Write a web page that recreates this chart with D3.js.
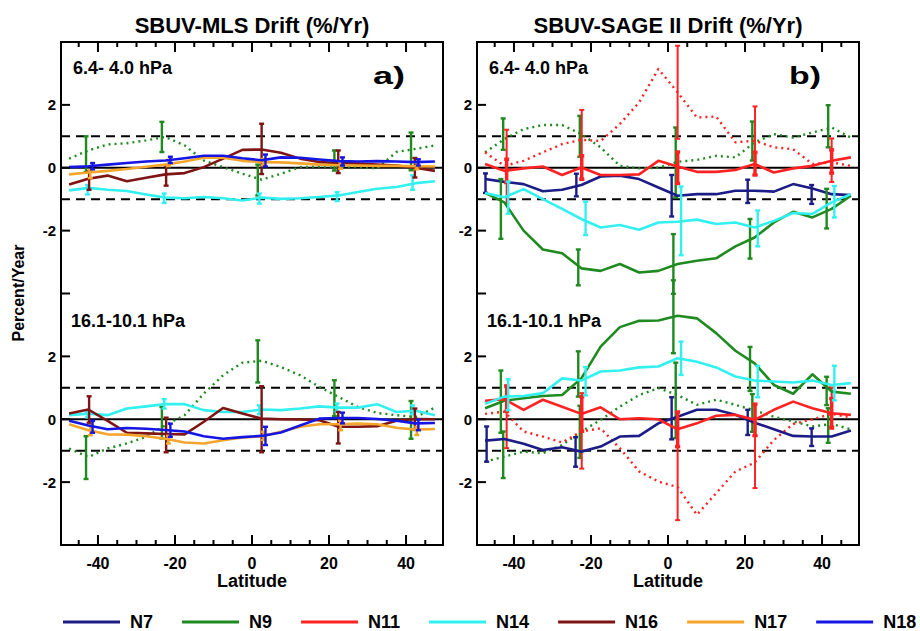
<!DOCTYPE html>
<html>
<head>
<meta charset="utf-8">
<script src="https://cdn.jsdelivr.net/npm/d3@7"></script>
<style>
  body { margin: 0; background: #fff; }
  text { font-family: "Liberation Sans", Arial, sans-serif; font-weight: bold; fill: #000; }
</style>
</head>
<body>
<svg id="chart" width="920" height="631"></svg>
<script>
// latitude bin centres (5 degree bins)
var lats = [-47.5, -42.5, -37.5, -32.5, -27.5, -22.5, -17.5, -12.5, -7.5, -2.5,
            2.5, 7.5, 12.5, 17.5, 22.5, 27.5, 32.5, 37.5, 42.5, 47.5];

// SBUV-MLS, 6.4-4.0 hPa
var mlsUpN9dot = [0.29, 0.55, 0.74, 0.78, 0.87, 0.98, 0.71, 0.23, 0.02, -0.19, -0.38, -0.19, 0.02, 0.04, 0.02, 0.02, -0.02, 0.5, 0.6, 0.71];
var mlsUpN14 = [-0.72, -0.64, -0.7, -0.74, -0.85, -0.95, -0.97, -0.93, -0.97, -1.04, -0.95, -0.99, -0.97, -0.93, -0.88, -0.77, -0.67, -0.61, -0.49, -0.43];
var mlsUpN16 = [-0.53, -0.35, -0.25, -0.43, -0.32, -0.21, -0.17, 0.02, 0.29, 0.57, 0.58, 0.48, 0.29, 0.18, 0.15, 0.13, 0.1, 0.07, 0, -0.1];
var mlsUpN17 = [-0.21, -0.15, -0.1, -0.04, 0.03, 0.1, 0.2, 0.32, 0.32, 0.22, 0.18, 0.17, 0.14, 0.1, 0.08, 0.07, 0.06, 0.06, 0.05, 0.04];
var mlsUpN18 = [0.02, 0.05, 0.1, 0.15, 0.2, 0.23, 0.3, 0.38, 0.38, 0.3, 0.24, 0.33, 0.32, 0.26, 0.21, 0.2, 0.21, 0.2, 0.18, 0.2];

// SBUV-MLS, 16.1-10.1 hPa
var mlsLoN9dot = [-0.93, -1.2, -0.93, -0.77, -0.56, -0.19, 0.13, 0.82, 1.4, 1.8, 1.86, 1.66, 1.4, 1.03, 0.71, 0.39, 0.2, 0.13, 0.07, 0.37];
var mlsLoN14 = [0.13, 0.18, 0.13, 0.34, 0.41, 0.48, 0.48, 0.29, 0.23, 0.23, 0.31, 0.29, 0.34, 0.41, 0.37, 0.37, 0.48, 0.23, 0.27, 0.13];
var mlsLoN16 = [0.18, 0.31, -0.05, -0.43, -0.45, -0.47, -0.48, -0.08, 0.36, 0.18, 0.02, 0, -0.01, -0.03, -0.24, -0.24, -0.22, -0.05, 0.01, 0];
var mlsLoN17 = [-0.16, -0.35, -0.48, -0.49, -0.54, -0.62, -0.74, -0.77, -0.67, -0.58, -0.54, -0.4, -0.24, -0.16, -0.16, -0.14, -0.16, -0.27, -0.33, -0.31];
var mlsLoN18 = [-0.05, -0.2, -0.32, -0.28, -0.3, -0.34, -0.39, -0.54, -0.62, -0.57, -0.53, -0.42, -0.2, 0.02, 0.04, 0.04, 0.01, -0.05, -0.13, -0.12];

// SBUV-SAGE II, 6.4-4.0 hPa
var sageUpN7 = [-0.36, -0.45, -0.52, -0.75, -0.7, -0.55, -0.28, -0.25, -0.36, -0.63, -0.89, -0.84, -0.84, -0.73, -0.73, -0.76, -0.52, -0.66, -0.84, -0.87];
var sageUpN9 = [-0.8, -1.1, -2.0, -2.6, -2.72, -3.2, -3.28, -3.06, -3.33, -3.28, -3.06, -2.96, -2.88, -2.5, -2.22, -1.74, -1.4, -1.58, -1.31, -0.89];
var sageUpN9dot = [0.49, 0.91, 1.23, 1.36, 1.36, 1.07, 0.65, 0.06, -0.02, 0, 0.19, 0.25, 0.38, 0.33, 0.81, 1.07, 0.96, 1.12, 1.28, 0.96];
var sageUpN11 = [0.12, -0.1, -0.02, 0.04, -0.23, 0.01, -0.23, -0.23, -0.21, 0.22, 0.04, -0.13, -0.13, -0.07, 0.12, -0.15, -0.02, 0.06, 0.22, 0.33];
var sageUpN11dot = [0.49, 0.06, 0.22, 0.49, 0.75, 0.89, 0.85, 1.39, 2.08, 3.14, 2.4, 1.6, 1.63, 0.81, 0.86, 0.65, 0.59, 0.12, 0.17, 0.06];
var sageUpN14 = [-0.8, -0.94, -0.68, -1.0, -1.31, -1.63, -1.9, -1.82, -1.97, -1.74, -1.72, -1.65, -1.79, -1.74, -1.9, -1.69, -1.44, -1.47, -1.1, -0.84];

// SBUV-SAGE II, 16.1-10.1 hPa
var sageLoN7 = [-0.68, -0.63, -0.78, -0.98, -0.89, -1.03, -0.87, -0.55, -0.53, -0.13, 0.08, 0.3, 0.3, 0.14, -0.11, -0.32, -0.53, -0.55, -0.55, -0.36];
var sageLoN9 = [0.35, 0.59, 0.67, 0.74, 0.77, 1.3, 2.31, 2.93, 3.13, 3.14, 3.29, 3.21, 2.74, 2.18, 1.78, 1.09, 0.81, 1.43, 0.88, 0.81];
var sageLoN9dot = [-1.35, -1.19, -1.03, -1.08, -0.82, -0.39, -0.02, 0.4, 0.77, 0.99, 0.77, 0.46, 0.62, 0.46, 0.28, 0.08, -0.07, -0.23, -0.15, -0.32];
var sageLoN11 = [0.59, 0.64, 0.3, 0.62, 0.4, 0.17, 0.38, 0, 0.03, 0, -0.32, -0.13, 0.11, 0.14, -0.02, 0.3, 0.56, 0.35, 0.19, 0.14];
var sageLoN11dot = [0.17, 0.24, -0.39, -0.55, -0.74, -0.39, -0.29, -0.92, -1.66, -1.98, -2.16, -3.04, -2.35, -1.66, -1.38, -0.66, -0.15, 0, 0.17, 0.06];
var sageLoN14 = [0.49, 0.72, 0.74, 0.83, 1.3, 1.23, 1.52, 1.55, 1.65, 1.68, 1.94, 1.83, 1.65, 1.36, 1.23, 1.2, 1.17, 1.23, 1.09, 1.15];

// error bars: [latitude, centre, half width]
var errMlsUpN9dot = [[-43.1, 0.43, 0.57], [-23.4, 0.98, 0.48], [1.5, -0.39, 0.49], [21.4, 0.23, 0.32], [41.3, 0.52, 0.6]];
var errMlsUpN14 = [[-42.7, -0.7, 0.15], [-22.8, -0.97, 0.15], [1.9, -0.98, 0.16], [22.1, -0.92, 0.14], [41.7, -0.47, 0.23]];
var errMlsUpN16 = [[-42.3, -0.41, 0.29], [-22.3, -0.25, 0.32], [2.5, 0.6, 0.8], [22.4, 0.19, 0.36], [42.3, 0, 0.31]];
var errMlsUpN17 = [[-42, -0.2, 0.13], [-21.7, 0.15, 0.1], [3, 0.18, 0.1], [23, 0.07, 0.1], [42.8, 0.05, 0.1]];
var errMlsUpN18 = [[-41.4, 0.05, 0.1], [-21.2, 0.25, 0.1], [3.5, 0.23, 0.19], [23.5, 0.2, 0.13], [43.2, 0.17, 0.1]];

var errMlsLoN9dot = [[-43.1, -1.22, 0.68], [-23.4, -0.11, 0.5], [1.5, 1.84, 0.67], [21.4, 0.67, 0.57], [41.3, -0.02, 0.6]];
var errMlsLoN14 = [[-42.7, 0.15, 0.09], [-22.8, 0.49, 0.15], [1.9, 0.3, 0.14], [22.1, 0.37, 0.13], [41.7, 0.3, 0.14]];
var errMlsLoN16 = [[-42.3, 0.31, 0.42], [-22.3, -0.5, 0.55], [2.5, 0, 1.05], [22.4, -0.27, 0.5], [42.3, 0, 0.34]];
var errMlsLoN17 = [[-42, -0.35, 0.16], [-21.7, -0.65, 0.12], [3, -0.53, 0.13], [23, -0.2, 0.15], [42.8, -0.37, 0.13]];
var errMlsLoN18 = [[-41.4, -0.24, 0.19], [-21.2, -0.35, 0.21], [3.5, -0.53, 0.29], [23.5, 0.04, 0.17], [43.2, -0.18, 0.17]];

var errSageUpN7 = [[-47.4, -0.49, 0.31], [-23.8, -0.55, 0.36], [0.95, -0.89, 0.66], [20.7, -0.75, 0.37], [37.3, -0.85, 0.3]];
var errSageUpN9 = [[-43.4, -1.31, 0.95], [-23.3, -3.17, 0.57], [1.4, -3.06, 0.95], [21.3, -2.26, 0.63], [41.2, -1.3, 0.63]];
var errSageUpN9dot = [[-42.8, 1.07, 0.5], [-22.9, 1.0, 0.65], [2, 0.17, 1.11], [21.9, 0.85, 0.62], [41.6, 1.32, 0.67]];
var errSageUpN11 = [[-41.9, -0.1, 0.37], [-22.4, 0.01, 0.37], [2.5, 0, 0.5], [22.6, 0.13, 0.36], [42.5, 0.2, 0.37]];
var errSageUpN11dot = [[-41.9, 0.04, 1.17], [-22.4, 0.73, 1.11], [2.5, 2.4, 1.48], [22.6, 0.86, 1.09], [42.5, 0.24, 0.69]];
var errSageUpN14 = [[-41.5, -0.95, 0.51], [-21.4, -1.61, 0.53], [3.4, -1.69, 1.09], [23.3, -1.93, 0.57], [43.2, -1.08, 0.5]];

var errSageLoN7 = [[-47.1, -0.79, 0.56], [-24, -1.04, 0.47], [0.95, 0.03, 0.67], [20.7, -0.1, 0.4], [37.3, -0.57, 0.28]];
var errSageLoN9 = [[-43.4, 0.56, 0.99], [-23.3, 1.44, 0.72], [1.4, 3.26, 1.16], [21.3, 1.6, 0.7], [41.2, 0.9, 0.45]];
var errSageLoN9dot = [[-42.8, -1.13, 0.74], [-22.9, -0.4, 0.83], [2, 0.6, 1.2], [21.9, 0.2, 0.6], [41.6, -0.2, 0.55]];
var errSageLoN11 = [[-41.9, 0.65, 0.4], [-22.4, 0.17, 0.55], [2.5, -0.32, 0.55], [22.6, -0.02, 0.5], [42.5, 0.19, 0.47]];
var errSageLoN11dot = [[-41.9, 0.08, 1.0], [-22.4, -0.37, 1.2], [2.5, -2.04, 1.17], [22.6, -1.36, 0.83], [42.5, 0.39, 0.62]];
var errSageLoN14 = [[-41.5, 0.78, 0.49], [-21.4, 1.21, 0.45], [3.4, 1.94, 0.53], [23.3, 1.2, 0.5], [43.2, 1.15, 0.55]];

var satellites = ["N7", "N9", "N11", "N14", "N16", "N17", "N18"];
var xTickLabels = [-40, -20, 0, 20, 40];
var yTickLabels = [-2, 0, 2];

var colors = {
    N7: "#1c1c86", N9: "#1f8a1f", N11: "#ff2222", N14: "#33f0f0",
    N16: "#7e1414", N17: "#f6a52c", N18: "#1616e4"
};

var svg = d3.select("#chart");

// one vertical axis for the two pressure layers: the upper layer is shifted by +8
var upShift = 8;
var yScale = d3.scaleLinear().domain([-4, 12]).range([545, 42]);

var panels = [
    {
        id: "mls",
        xScale: d3.scaleLinear().domain([-49.6, 49.6]).range([61, 443]),
        title: "SBUV-MLS Drift (%/Yr)", tag: "a)",
        series: [
            {sat: "N9", dotted: true, up: mlsUpN9dot, lo: mlsLoN9dot, errUp: errMlsUpN9dot, errLo: errMlsLoN9dot},
            {sat: "N14", up: mlsUpN14, lo: mlsLoN14, errUp: errMlsUpN14, errLo: errMlsLoN14},
            {sat: "N16", up: mlsUpN16, lo: mlsLoN16, errUp: errMlsUpN16, errLo: errMlsLoN16},
            {sat: "N17", up: mlsUpN17, lo: mlsLoN17, errUp: errMlsUpN17, errLo: errMlsLoN17},
            {sat: "N18", up: mlsUpN18, lo: mlsLoN18, errUp: errMlsUpN18, errLo: errMlsLoN18}
        ]
    },
    {
        id: "sage",
        xScale: d3.scaleLinear().domain([-49.6, 49.6]).range([477, 859]),
        title: "SBUV-SAGE II Drift (%/Yr)", tag: "b)",
        series: [
            {sat: "N9", dotted: true, up: sageUpN9dot, lo: sageLoN9dot, errUp: errSageUpN9dot, errLo: errSageLoN9dot},
            {sat: "N11", dotted: true, up: sageUpN11dot, lo: sageLoN11dot, errUp: errSageUpN11dot, errLo: errSageLoN11dot},
            {sat: "N7", up: sageUpN7, lo: sageLoN7, errUp: errSageUpN7, errLo: errSageLoN7},
            {sat: "N9", up: sageUpN9, lo: sageLoN9, errUp: errSageUpN9, errLo: errSageLoN9},
            {sat: "N11", up: sageUpN11, lo: sageLoN11, errUp: errSageUpN11, errLo: errSageLoN11, heavy: true},
            {sat: "N14", up: sageUpN14, lo: sageLoN14, errUp: errSageUpN14, errLo: errSageLoN14}
        ]
    }
];

panels.forEach(function (p) {
    var x = p.xScale;
    var x0 = x.range()[0], x1 = x.range()[1];
    var yTop = yScale.range()[1], yBot = yScale.range()[0];
    var g = svg.append("g");

    g.append("clipPath").attr("id", "clip-" + p.id)
        .append("rect")
        .attr("x", x0).attr("y", yTop)
        .attr("width", x1 - x0).attr("height", yBot - yTop);

    var plot = g.append("g").attr("clip-path", "url(#clip-" + p.id + ")");

    // reference lines: 0 solid, +/-1 dashed, in each layer
    [0, upShift].forEach(function (shift) {
        plot.append("line")
            .attr("x1", x0).attr("x2", x1)
            .attr("y1", yScale(shift)).attr("y2", yScale(shift))
            .attr("stroke", "#000").attr("stroke-width", 2);
        [-1, 1].forEach(function (v) {
            plot.append("line")
                .attr("x1", x0).attr("x2", x1)
                .attr("y1", yScale(shift + v)).attr("y2", yScale(shift + v))
                .attr("stroke", "#000").attr("stroke-width", 2)
                .attr("stroke-dasharray", "9,6");
        });
    });

    // series lines and error bars
    p.series.forEach(function (s) {
        var col = colors[s.sat];
        [["up", "errUp", upShift], ["lo", "errLo", 0]].forEach(function (layer) {
            var vals = s[layer[0]], errs = s[layer[1]], shift = layer[2];
            var line = d3.line()
                .x(function (d, i) { return x(lats[i]); })
                .y(function (d) { return yScale(d + shift); });

            plot.append("path")
                .datum(vals)
                .attr("d", line)
                .attr("fill", "none")
                .attr("stroke", col)
                .attr("stroke-width", s.dotted ? 2.4 : 2.6)
                .attr("stroke-dasharray", s.dotted ? "2,4" : null)
                .attr("stroke-linejoin", "round");

            var bw = s.heavy ? 3.5 : (s.dotted && s.sat === "N11" ? 2 : 2.4);
            var bars = plot.append("g").attr("stroke", col).attr("stroke-width", bw);
            errs.forEach(function (e) {
                var bx = x(e[0]);
                var ya = yScale(e[1] + e[2] + shift), yb = yScale(e[1] - e[2] + shift);
                bars.append("line").attr("x1", bx).attr("x2", bx).attr("y1", ya).attr("y2", yb);
                bars.append("line").attr("x1", bx - 2.5).attr("x2", bx + 2.5).attr("y1", ya).attr("y2", ya);
                bars.append("line").attr("x1", bx - 2.5).attr("x2", bx + 2.5).attr("y1", yb).attr("y2", yb);
            });
        });
    });

    // frame
    g.append("rect")
        .attr("x", x0).attr("y", yTop)
        .attr("width", x1 - x0).attr("height", yBot - yTop)
        .attr("fill", "none").attr("stroke", "#000").attr("stroke-width", 2);

    // x ticks every 5 degrees, top and bottom, pointing inwards
    var xt = d3.range(-45, 46, 5);
    xt.forEach(function (t) {
        var len = (t % 20 === 0) ? 10 : 5;
        g.append("line").attr("x1", x(t)).attr("x2", x(t))
            .attr("y1", yBot).attr("y2", yBot - len)
            .attr("stroke", "#000").attr("stroke-width", 2);
        g.append("line").attr("x1", x(t)).attr("x2", x(t))
            .attr("y1", yTop).attr("y2", yTop + len)
            .attr("stroke", "#000").attr("stroke-width", 2);
    });
    xTickLabels.forEach(function (t) {
        g.append("text").attr("x", x(t)).attr("y", 569)
            .attr("text-anchor", "middle").attr("font-size", 16)
            .text(t);
    });
    g.append("text").attr("x", x(0)).attr("y", 587)
        .attr("text-anchor", "middle").attr("font-size", 18)
        .text("Latitude");

    // y ticks (left side only)
    d3.range(-2, 11, 2).forEach(function (v) {
        g.append("line").attr("x1", x0).attr("x2", x0 + 9)
            .attr("y1", yScale(v)).attr("y2", yScale(v))
            .attr("stroke", "#000").attr("stroke-width", 2);
    });
    [0, upShift].forEach(function (shift) {
        yTickLabels.forEach(function (v) {
            g.append("text").attr("x", x0 - 5).attr("y", yScale(v + shift) + 5.5)
                .attr("text-anchor", "end").attr("font-size", 15)
                .text(v);
        });
    });

    // titles and layer labels
    g.append("text").attr("x", (x0 + x1) / 2).attr("y", 33)
        .attr("text-anchor", "middle").attr("font-size", 22)
        .text(p.title);
    g.append("text").attr("x", x0 + 12).attr("y", 74)
        .attr("font-size", 18).text("6.4- 4.0 hPa");
    g.append("text").attr("x", x0 + 10).attr("y", 327)
        .attr("font-size", 18).text("16.1-10.1 hPa");
    g.append("text").attr("x", x1 - 70).attr("y", 84)
        .attr("font-size", 24)
        .attr("textLength", 32).attr("lengthAdjust", "spacingAndGlyphs")
        .text(p.tag);
});

// y axis title
svg.append("text")
    .attr("transform", "translate(24,293) rotate(-90)")
    .attr("text-anchor", "middle").attr("font-size", 16)
    .text("Percent/Year");

// legend
var legend = svg.append("g");
var lx = 63;
satellites.forEach(function (sat) {
    legend.append("line")
        .attr("x1", lx).attr("x2", lx + 57)
        .attr("y1", 622).attr("y2", 622)
        .attr("stroke", colors[sat]).attr("stroke-width", 3);
    var t = legend.append("text")
        .attr("x", lx + 67).attr("y", 628)
        .attr("font-size", 18)
        .text(sat);
    lx += 67 + t.node().getComputedTextLength() + 29;
});
</script>
</body>
</html>
